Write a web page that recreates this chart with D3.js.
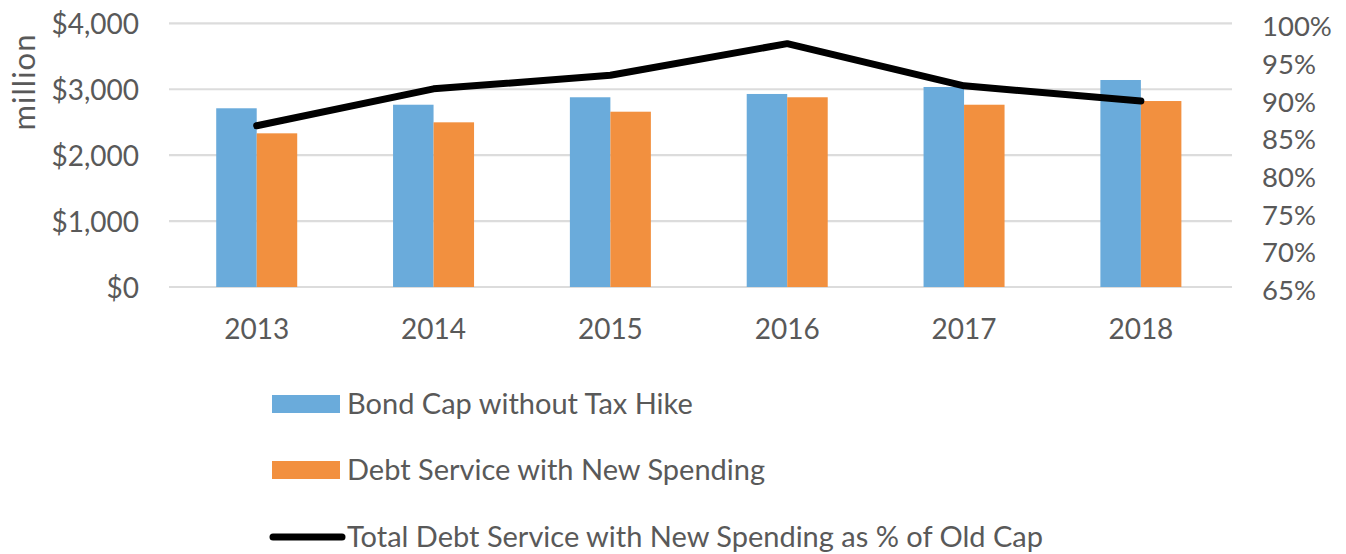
<!DOCTYPE html>
<html>
<head>
    <script src="https://d3js.org/d3.v7.min.js"></script>
    <style>
        body { margin: 0; background: white; }
        svg text { font-family: Lato, "Open Sans", sans-serif; fill: #595959; }
    </style>
</head>
<body>
<svg id="chart"></svg>
<script>
    // data
    const years = ['2013', '2014', '2015', '2016', '2017', '2018'];
    const bondCap = [2711, 2765, 2878, 2928, 3034, 3140];
    const debtService = [2331, 2498, 2659, 2878, 2765, 2821];
    const pctOfCap = [0.864, 0.913, 0.931, 0.973, 0.917, 0.897];
    const leftTicks = [0, 1000, 2000, 3000, 4000];
    const rightTicks = [0.65, 0.70, 0.75, 0.80, 0.85, 0.90, 0.95, 1.00];
    const legendLabels = ['Bond Cap without Tax Hike', 'Debt Service with New Spending',
                          'Total Debt Service with New Spending as % of Old Cap'];

    const blue = '#6aabdb', orange = '#f2903f';

    let svg = d3.select('#chart')
                .attr('width', 1346)
                .attr('height', 554);

    let x = d3.scaleBand()
              .domain(years)
              .range([168.3, 1229.3]);

    let yLeft = d3.scaleLinear()
                  .domain([0, 4000])
                  .range([287, 23.3]);

    let yRight = d3.scaleLinear()
                   .domain([0.65, 1.00])
                   .range([287, 23.3]);

    // gridlines
    svg.append('g')
       .selectAll('line')
       .data(leftTicks)
       .join('line')
       .attr('x1', 169)
       .attr('x2', 1232)
       .attr('y1', d => yLeft(d))
       .attr('y2', d => yLeft(d))
       .attr('stroke', '#dcdcdc')
       .attr('stroke-width', 2.2);

    // left axis
    let leftAxis = svg.append('g')
       .attr('transform', 'translate(139,0)')
       .call(d3.axisLeft(yLeft).tickValues(leftTicks).tickSize(0).tickPadding(0)
               .tickFormat(d => '$' + d3.format(',')(d)));
    leftAxis.select('.domain').remove();
    leftAxis.selectAll('text').attr('font-size', 28).attr('dy', '0.38em');

    // right axis
    let rightAxis = svg.append('g')
       .attr('transform', 'translate(1262,0)')
       .call(d3.axisRight(yRight).tickValues(rightTicks).tickSize(0).tickPadding(0)
               .tickFormat(d3.format('.0%')));
    rightAxis.select('.domain').remove();
    rightAxis.selectAll('text').attr('font-size', 27.5).attr('dy', '0.45em');

    // x axis labels
    let xAxis = svg.append('g')
       .attr('transform', 'translate(0,307)')
       .call(d3.axisBottom(x).tickSize(0).tickPadding(0));
    xAxis.select('.domain').remove();
    xAxis.selectAll('text').attr('font-size', 28).attr('dy', '1.15em');

    // y title
    svg.append('text')
       .attr('transform', 'translate(35,82) rotate(-90)')
       .attr('text-anchor', 'middle')
       .attr('font-size', 31)
       .attr('letter-spacing', 1)
       .text('million');

    const barW = 40.5;
    const cx = d => x(d) + x.bandwidth() / 2;

    svg.append('g')
       .selectAll('rect')
       .data(years)
       .join('rect')
       .attr('x', d => cx(d) - barW)
       .attr('width', barW)
       .attr('y', (d, i) => yLeft(bondCap[i]))
       .attr('height', (d, i) => yLeft(0) - yLeft(bondCap[i]))
       .attr('fill', blue);

    svg.append('g')
       .selectAll('rect')
       .data(years)
       .join('rect')
       .attr('x', d => cx(d))
       .attr('width', barW)
       .attr('y', (d, i) => yLeft(debtService[i]))
       .attr('height', (d, i) => yLeft(0) - yLeft(debtService[i]))
       .attr('fill', orange);

    let line = d3.line()
                 .x((d, i) => cx(years[i]))
                 .y(d => yRight(d));

    svg.append('path')
       .datum(pctOfCap)
       .attr('d', line)
       .attr('fill', 'none')
       .attr('stroke', 'black')
       .attr('stroke-width', 7)
       .attr('stroke-linecap', 'round')
       .attr('stroke-linejoin', 'round');

    // legend
    let legend = svg.append('g');
    const legY = [404, 470, 537];
    legend.append('rect').attr('x', 272).attr('y', legY[0] - 9).attr('width', 68).attr('height', 18).attr('fill', blue);
    legend.append('rect').attr('x', 272).attr('y', legY[1] - 9).attr('width', 68).attr('height', 18).attr('fill', orange);
    legend.append('line').attr('x1', 273).attr('x2', 342).attr('y1', legY[2]).attr('y2', legY[2])
          .attr('stroke', 'black').attr('stroke-width', 7).attr('stroke-linecap', 'round');
    legend.selectAll('text')
          .data(legendLabels)
          .join('text')
          .attr('x', 347)
          .attr('y', (d, i) => legY[i])
          .attr('dy', '0.36em')
          .attr('font-size', 29)
          .text(d => d);
</script>
</body>
</html>
